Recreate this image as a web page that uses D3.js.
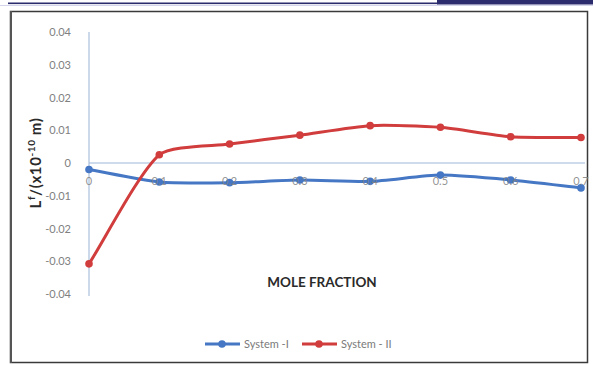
<!DOCTYPE html>
<html>
<head>
<meta charset="utf-8">
<script src="https://cdn.jsdelivr.net/npm/d3@7"></script>
<style>
  html, body { margin: 0; padding: 0; background: #fff; }
  svg { display: block; }
</style>
</head>
<body>
<svg id="chart" width="593" height="365"></svg>
<script>
// Mole fraction values on the x axis
const moleFractions = [0, 0.1, 0.2, 0.3, 0.4, 0.5, 0.6, 0.7];
// L^f (x10^-10 m) for each system
const systemI  = [-0.002, -0.0058, -0.006, -0.0052, -0.0056, -0.0037, -0.0052, -0.0076];
const systemII = [-0.0308, 0.0025, 0.0058, 0.0085, 0.0114, 0.0109, 0.008, 0.0078];
const seriesNames = ["System -I", "System - II"];
const yTicks = [0.04, 0.03, 0.02, 0.01, 0, -0.01, -0.02, -0.03, -0.04];
const yTickLabels = ["0.04", "0.03", "0.02", "0.01", "0", "-0.01", "-0.02", "-0.03", "-0.04"];
const xTickLabels = ["0", "0.1", "0.2", "0.3", "0.4", "0.5", "0.6", "0.7"];

const svg = d3.select("#chart");
const font = "Lato, 'Open Sans', sans-serif";
const colors = ["#4577c4", "#d13c3c"];

// page frame: header rules and chart border
svg.append("rect").attr("x", 8).attr("y", 2.5).attr("width", 430).attr("height", 1.6).attr("fill", "#2b2c6e");
svg.append("rect").attr("x", 437).attr("y", 0).attr("width", 156).attr("height", 4.5).attr("fill", "#2b2c6e");
svg.append("rect").attr("x", 0).attr("y", 5).attr("width", 593).attr("height", 1).attr("fill", "#d4d4ec");
svg.append("rect").attr("x", 10.5).attr("y", 11.5).attr("width", 577).attr("height", 351)
  .attr("fill", "#fff").attr("stroke", "#3a3a3a").attr("stroke-width", 1.5);
svg.append("rect").attr("x", 10).attr("y", 11).attr("width", 2).attr("height", 352).attr("fill", "#555");

const x = d3.scaleLinear().domain([0, 0.7]).range([89, 581]);
const y = d3.scaleLinear().domain([-0.04, 0.04]).range([294, 32]);

// y axis
svg.append("line").attr("x1", 89).attr("x2", 89).attr("y1", y(0.04)).attr("y2", y(-0.04) + 2)
  .attr("stroke", "#a9c0dc").attr("stroke-width", 1.2);
svg.append("g").selectAll("text").data(yTicks).join("text")
  .attr("x", 71).attr("y", d => y(d) + 4)
  .attr("text-anchor", "end")
  .attr("font-family", font).attr("font-size", 11).attr("fill", "#808080")
  .text((d, i) => yTickLabels[i]);

// x axis at zero
svg.append("line").attr("x1", x(0)).attr("x2", 585).attr("y1", y(0)).attr("y2", y(0))
  .attr("stroke", "#9db8da").attr("stroke-width", 1.2);

// Smoothed line: cubic Bezier segments whose control arms follow the
// neighbouring-point tangent, split in proportion to adjacent segment lengths.
function smoothPath(pts) {
  const p = d3.path();
  const n = pts.length;
  const dist = (a, b) => Math.hypot(b[0] - a[0], b[1] - a[1]);
  const t = 0.22;
  p.moveTo(pts[0][0], pts[0][1]);
  for (let i = 0; i < n - 1; i++) {
    const p0 = pts[Math.max(i - 1, 0)], p1 = pts[i], p2 = pts[i + 1], p3 = pts[Math.min(i + 2, n - 1)];
    const dPrev = dist(p0, p1), d = dist(p1, p2), dNext = dist(p2, p3);
    const k1 = t * d / (dPrev + d), k2 = t * d / (d + dNext);
    const c1 = [p1[0] + (p2[0] - p0[0]) * k1, p1[1] + (p2[1] - p0[1]) * k1];
    const c2 = [p2[0] - (p3[0] - p1[0]) * k2, p2[1] - (p3[1] - p1[1]) * k2];
    p.bezierCurveTo(c1[0], c1[1], c2[0], c2[1], p2[0], p2[1]);
  }
  return p.toString();
}

// series lines and markers
[systemI, systemII].forEach((vals, k) => {
  const pts = vals.map((v, i) => [x(moleFractions[i]), y(v)]);
  svg.append("path").attr("d", smoothPath(pts))
    .attr("fill", "none").attr("stroke", colors[k]).attr("stroke-width", 3);
  svg.append("g").selectAll("circle").data(vals).join("circle")
    .attr("cx", (d, i) => x(moleFractions[i])).attr("cy", d => y(d)).attr("r", 3.8)
    .attr("fill", colors[k]);
});

// x tick labels sit just under the zero line
svg.append("g").selectAll("text").data(moleFractions).join("text")
  .attr("x", d => x(d)).attr("y", y(0) + 22)
  .attr("text-anchor", "middle")
  .attr("font-family", font).attr("font-size", 11).attr("fill", "#808080")
  .attr("fill-opacity", 0.85)
  .text((d, i) => xTickLabels[i]);

// axis titles
svg.append("text").attr("x", 322).attr("y", 287).attr("text-anchor", "middle")
  .attr("font-family", font).attr("font-size", 13.5).attr("font-weight", "bold").attr("fill", "#2a2a2a")
  .text("MOLE FRACTION");

const yTitle = svg.append("text")
  .attr("transform", "translate(41,163) rotate(-90)")
  .attr("text-anchor", "middle")
  .attr("font-family", font).attr("font-size", 15).attr("font-weight", "bold").attr("fill", "#2a2a2a")
  .attr("letter-spacing", 0.6);
yTitle.append("tspan").text("L");
yTitle.append("tspan").attr("font-size", 10).attr("dy", -6).text("f");
yTitle.append("tspan").attr("dy", 6).text("/(x10");
yTitle.append("tspan").attr("font-size", 10).attr("dy", -6).text("-10");
yTitle.append("tspan").attr("dy", 6).text(" m)");

// legend
const legendX = [205, 302];
seriesNames.forEach((name, k) => {
  const g = svg.append("g").attr("transform", `translate(${legendX[k]},344)`);
  g.append("line").attr("x1", 0).attr("x2", 35).attr("stroke", colors[k]).attr("stroke-width", 3);
  g.append("circle").attr("cx", 17).attr("r", 3.8).attr("fill", colors[k]);
  g.append("text").attr("x", 39).attr("y", 4)
    .attr("font-family", font).attr("font-size", 11).attr("fill", "#7a7a7a").text(name);
});
</script>
</body>
</html>
